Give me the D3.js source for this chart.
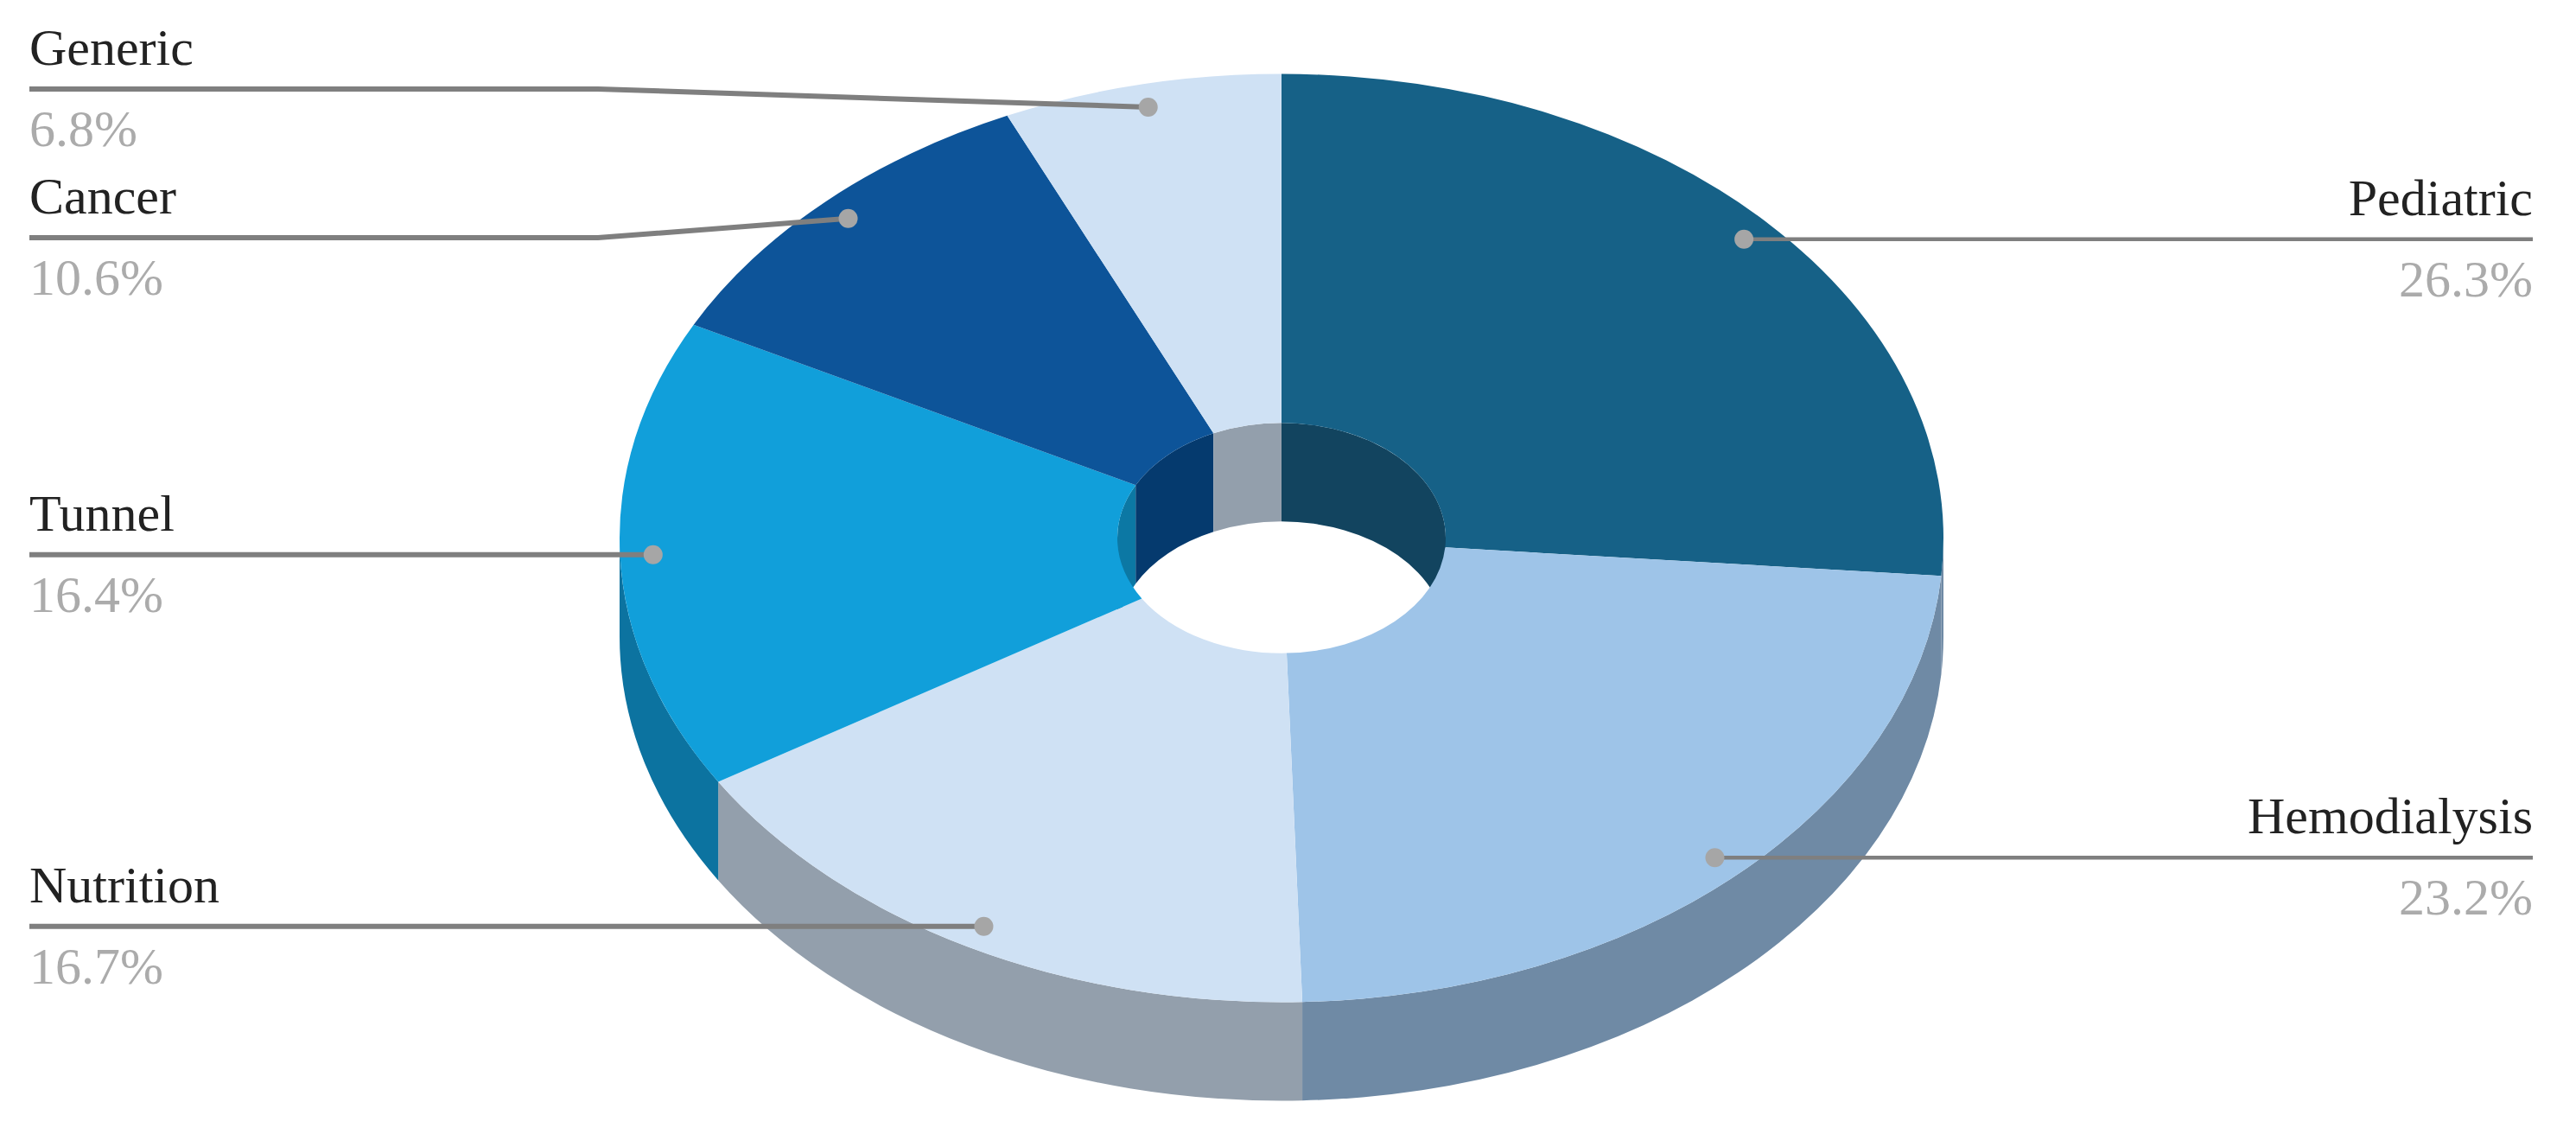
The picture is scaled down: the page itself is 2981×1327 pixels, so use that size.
<!DOCTYPE html>
<html>
<head>
<meta charset="utf-8">
<script src="https://cdn.jsdelivr.net/npm/d3@7/dist/d3.min.js"></script>
<style>
  html, body { margin: 0; padding: 0; background: #fff; }
  svg { display: block; }
  text { font-family: "Liberation Serif", serif; font-size: 60px; }
</style>
</head>
<body>
<div id="chart"></div>
<script>
// chart data, clockwise from 12 o'clock
var categories = ["Pediatric", "Hemodialysis", "Nutrition", "Tunnel", "Cancer", "Generic"];
var shares = [26.3, 23.2, 16.7, 16.4, 10.6, 6.8];
var shareLabels = ["26.3%", "23.2%", "16.7%", "16.4%", "10.6%", "6.8%"];

// colours per slice
var topColors = ["#166187", "#9ec4e8", "#cfe1f4", "#119fda", "#0d5499", "#cfe1f4"];
var outerWallColors = ["#6f8aa5", "#6f8aa5", "#939fac", "#0c73a0", "#0a4a85", "#939fac"];
var innerWallColors = ["#12445f", "#6f8aa5", "#939fac", "#0c78a4", "#053a6e", "#939fac"];

var svgWidth = 2981;
var svgHeight = 1327;

// projected pie: circle squashed by tilt, extruded down by depth
var centerX = 1483;
var centerY = 622.5;
var outerRadius = 766;
var innerRadius = 190;
var tilt = 0.701;
var depth = 114;
var dotRadius = 0.95;

// label rails
var railLeft = 34;
var railRight = 2931;
var elbowX = 692;
var bentRailY = { Generic: 103, Cancer: 275 };

var svg = d3
  .select("#chart")
  .append("svg")
  .attr("width", svgWidth)
  .attr("height", svgHeight);

var slices = d3.pie().sort(null)(shares);

// everything round the centre is drawn in unsquashed coordinates
var pieGroup = svg.append("g")
  .attr("transform", `translate(${centerX}, ${centerY}) scale(1, ${tilt})`);

// one band of a wall, between two angles of the pie
function wallPath(radius, a0, a1) {
  var p = d3.path();
  p.arc(0, 0, radius, a0 - Math.PI / 2, a1 - Math.PI / 2);
  p.arc(0, depth / tilt, radius, a1 - Math.PI / 2, a0 - Math.PI / 2, true);
  p.closePath();
  return p.toString();
}

// inner walls: only the far side of the hole can be seen
slices.forEach(function(d, i) {
  [[0, Math.PI / 2], [Math.PI * 1.5, Math.PI * 2]].forEach(function(range) {
    var a0 = Math.max(d.startAngle, range[0]);
    var a1 = Math.min(d.endAngle, range[1]);
    if (a1 > a0) {
      pieGroup.append("path")
        .attr("d", wallPath(innerRadius, a0, a1))
        .attr("fill", innerWallColors[i]);
    }
  });
});

// outer walls: only the near side
slices.forEach(function(d, i) {
  var a0 = Math.max(d.startAngle, Math.PI / 2);
  var a1 = Math.min(d.endAngle, Math.PI * 1.5);
  if (a1 > a0) {
    pieGroup.append("path")
      .attr("d", wallPath(outerRadius, a0, a1))
      .attr("fill", outerWallColors[i]);
  }
});

// top face
var arc = d3.arc().innerRadius(innerRadius).outerRadius(outerRadius);

pieGroup.selectAll(".slice")
  .data(slices)
  .enter()
  .append("path")
  .attr("class", "slice")
  .attr("d", arc)
  .attr("fill", (d, i) => topColors[i]);

// leader lines and labels
var line = d3.line();

slices.forEach(function(d, i) {
  var mid = (d.startAngle + d.endAngle) / 2;
  var dotX = centerX + outerRadius * dotRadius * Math.sin(mid);
  var dotY = centerY - outerRadius * dotRadius * Math.cos(mid) * tilt;
  var onRight = dotX > centerX + innerRadius;
  var railY = bentRailY[categories[i]] || dotY;
  var railEnd = onRight ? railRight : railLeft;

  var points = [[railEnd, railY]];
  if (railY !== dotY) points.push([elbowX, railY]);
  points.push([dotX, dotY]);

  svg.append("path")
    .attr("d", line(points))
    .attr("fill", "none")
    .attr("stroke", "#7f7f7f")
    .attr("stroke-width", onRight ? 4.5 : 6);

  svg.append("circle")
    .attr("cx", dotX)
    .attr("cy", dotY)
    .attr("r", 11)
    .attr("fill", "#a6a6a6");

  svg.append("text")
    .attr("x", railEnd)
    .attr("y", railY - 28)
    .attr("text-anchor", onRight ? "end" : "start")
    .attr("fill", "#222222")
    .text(categories[i]);

  svg.append("text")
    .attr("x", railEnd)
    .attr("y", railY + 66)
    .attr("text-anchor", onRight ? "end" : "start")
    .attr("fill", "#ababab")
    .text(shareLabels[i]);
});
</script>
</body>
</html>
